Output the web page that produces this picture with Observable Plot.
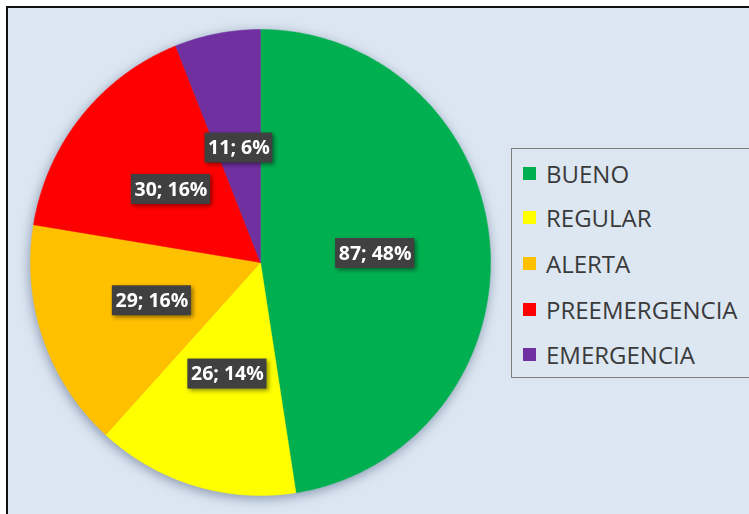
<!DOCTYPE html>
<html>
<head>
<meta charset="utf-8">
<script src="https://cdn.jsdelivr.net/npm/d3@7"></script>
<script src="https://cdn.jsdelivr.net/npm/@observablehq/plot@0.6"></script>
<style>
  body { margin: 0; background: #ffffff; }
  #wrap { position: relative; width: 749px; height: 514px; overflow: hidden; }
  #frame { position: absolute; left: 6px; top: 6px; width: 760px; height: 530px;
           border-left: 2px solid #111; border-top: 2px solid #111; background: #dce6f2; }
  #chart { position: absolute; left: 0; top: 0; }
  #legend { position: absolute; left: 511px; top: 148px; width: 260px; height: 228px;
            border: 1px solid #7f7f7f; background: #dde7f2; font-family: "Open Sans", sans-serif; }
  .item { position: absolute; left: 11px; height: 30px; display: flex; align-items: center;
          font-size: 24px; color: #3a3a3a; white-space: nowrap; }
  .sw { width: 13px; height: 13px; margin-right: 10px; }
</style>
</head>
<body>
<div id="wrap">
  <div id="frame"></div>
  <div id="chart"></div>
  <div id="legend"></div>
</div>
<script>
const categories = ["BUENO", "REGULAR", "ALERTA", "PREEMERGENCIA", "EMERGENCIA"];
const values = [87, 26, 29, 30, 11];
const colors = ["#00b050", "#ffff00", "#ffc000", "#ff0000", "#7030a0"];

const total = d3.sum(values);
const arcs = d3.pie().sort(null).value(d => d)(values);

const xRange = [30, 490], yRange = [495, 29];
const unitX = (xRange[1] - xRange[0]) / 2, unitY = (yRange[0] - yRange[1]) / 2;

const marks = [];
arcs.forEach((a, i) => {
  const pts = [{x: 0, y: 0}];
  const n = Math.max(8, Math.ceil((a.endAngle - a.startAngle) / 0.01));
  for (let k = 0; k <= n; k++) {
    const t = a.startAngle + (a.endAngle - a.startAngle) * k / n;
    pts.push({x: Math.sin(t), y: Math.cos(t)});
  }
  pts.push({x: 0, y: 0});
  marks.push(Plot.line(pts, {x: "x", y: "y", fill: colors[i], stroke: colors[i], strokeWidth: 0.5, curve: "linear"}));
});

const labels = arcs.map((a, i) => {
  const mid = (a.startAngle + a.endAngle) / 2;
  const text = `${values[i]}; ${Math.round(values[i] / total * 100)}%`;
  const w = text.length * 11.3;
  const lx = 0.5 * Math.sin(mid), ly = 0.5 * Math.cos(mid);
  return {x: lx, y: ly, text, x1: lx - w / 2 / unitX, x2: lx + w / 2 / unitX, y1: ly - 15 / unitY, y2: ly + 15 / unitY};
});

marks.push(Plot.rect(labels, {x1: "x1", x2: "x2", y1: "y1", y2: "y2", fill: "#404040"}));
marks.push(Plot.text(labels, {x: "x", y: "y", text: "text", fill: "#ffffff", fontSize: 19.5,
  fontWeight: "bold", fontFamily: "Open Sans, sans-serif"}));

const svg = Plot.plot({
  width: 749, height: 514, margin: 0,
  style: {background: "transparent", overflow: "visible"},
  x: {domain: [-1, 1], range: xRange, axis: null},
  y: {domain: [-1, 1], range: yRange, axis: null},
  marks
});
// group the slices so the soft shadow falls only around the whole pie
const sliceGroups = Array.from(svg.querySelectorAll('g[aria-label="line"]'));
if (sliceGroups.length) {
  const pie = document.createElementNS("http://www.w3.org/2000/svg", "g");
  sliceGroups[0].parentNode.insertBefore(pie, sliceGroups[0]);
  sliceGroups.forEach(g => pie.appendChild(g));
  pie.style.filter = "drop-shadow(-1px 3px 6px rgba(70,90,120,0.55))";
}
svg.querySelectorAll('g[aria-label="rect"]').forEach(g => {
  g.style.filter = "drop-shadow(2px 2px 2px rgba(0,0,0,0.45))";
});
document.getElementById("chart").appendChild(svg);

const legend = document.getElementById("legend");
const rowCenters = [24, 68, 114, 160, 205];
categories.forEach((c, i) => {
  const item = document.createElement("div");
  item.className = "item";
  item.style.top = (rowCenters[i] - 15) + "px";
  const sw = document.createElement("span");
  sw.className = "sw";
  sw.style.background = colors[i];
  item.appendChild(sw);
  item.appendChild(document.createTextNode(c));
  legend.appendChild(item);
});
</script>
</body>
</html>
